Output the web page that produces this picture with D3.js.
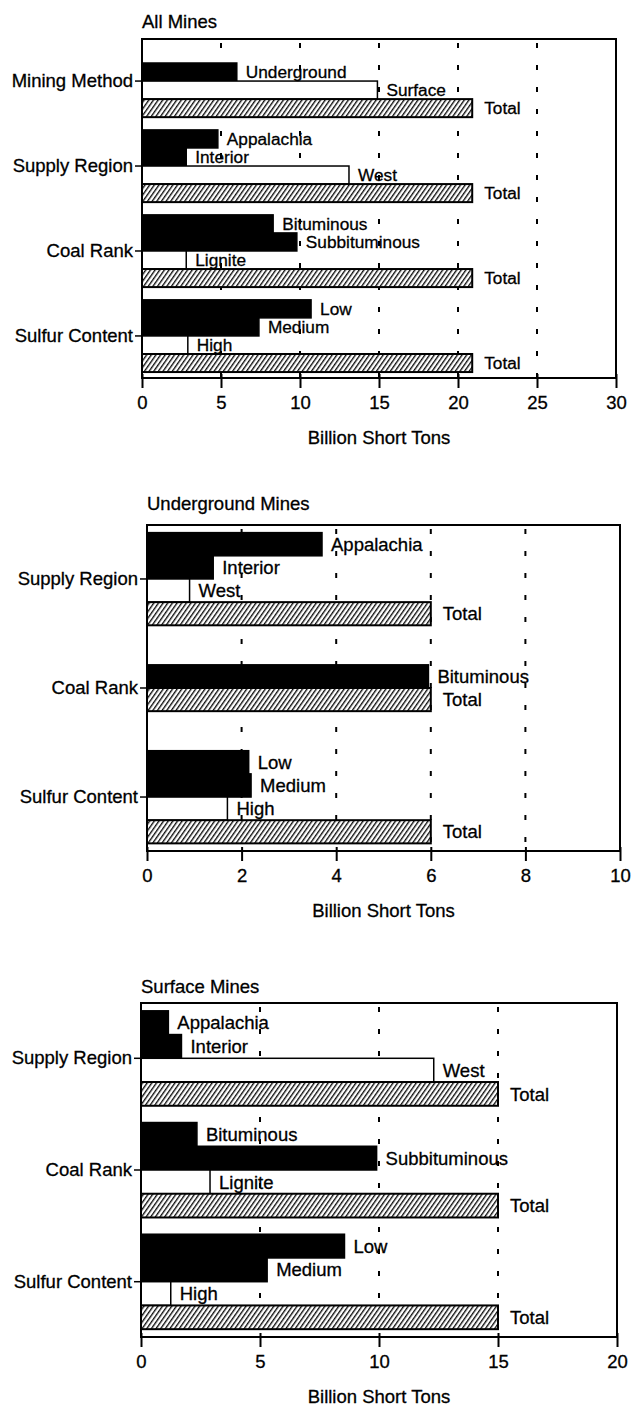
<!DOCTYPE html>
<html>
<head>
<meta charset="utf-8">
<script src="https://cdn.jsdelivr.net/npm/d3@7"></script>
<style>
  body { margin: 0; background: #fff; }
  svg { display: block; }
  text { font-family: "Liberation Sans", Arial, Helvetica, sans-serif; font-size: 18.5px; fill: #000; stroke: #000; stroke-width: 0.3px; }
</style>
</head>
<body>
<svg id="chart" width="631" height="1406"></svg>
<script>
// categories
const panelTitles = ["All Mines", "Underground Mines", "Surface Mines"];
const allGroups = ["Mining Method", "Supply Region", "Coal Rank", "Sulfur Content"];
const splitGroups = ["Supply Region", "Coal Rank", "Sulfur Content"];
const miningMethods = ["Underground", "Surface", "Total"];
const supplyRegions = ["Appalachia", "Interior", "West", "Total"];
const coalRanks = ["Bituminous", "Subbituminous", "Lignite", "Total"];
const coalRanksUnderground = ["Bituminous", "Total"];
const sulfurLevels = ["Low", "Medium", "High", "Total"];
const axisTitle = "Billion Short Tons";

// values, billion short tons
const allMiningValues = [6.0, 14.9, 20.9];
const allSupplyValues = [4.8, 2.8, 13.1, 20.9];
const allRankValues = [8.3, 9.8, 2.8, 20.9];
const allSulfurValues = [10.7, 7.4, 2.9, 20.9];
const ugSupplyValues = [3.7, 1.4, 0.9, 6.0];
const ugRankValues = [5.95, 6.0];
const ugSulfurValues = [2.15, 2.2, 1.7, 6.0];
const sfSupplyValues = [1.15, 1.7, 12.3, 15.0];
const sfRankValues = [2.35, 9.9, 2.9, 15.0];
const sfSulfurValues = [8.55, 5.3, 1.25, 15.0];

// tick labels
const allTicks = [0, 5, 10, 15, 20, 25, 30];
const ugTicks = [0, 2, 4, 6, 8, 10];
const sfTicks = [0, 5, 10, 15, 20];

const openBars = new Set(["Surface", "West", "Lignite", "High"]);
const svg = d3.select("#chart");

const defs = svg.append("defs");
const hatch = defs.append("pattern")
  .attr("id", "hatch")
  .attr("patternUnits", "userSpaceOnUse")
  .attr("width", 3.8).attr("height", 10)
  .attr("patternTransform", "rotate(35)");
hatch.append("rect").attr("width", 3.8).attr("height", 10).attr("fill", "#fff");
hatch.append("line").attr("x1", 0.7).attr("x2", 0.7).attr("y1", 0).attr("y2", 10)
  .attr("stroke", "#000").attr("stroke-width", 1.3);

function drawPanel(title, groups, series, ticks, box) {
  const g = svg.append("g");

  const x = d3.scaleLinear()
    .domain([ticks[0], ticks[ticks.length - 1]])
    .range([box.left, box.right]);

  const y = d3.scaleBand()
    .domain(groups)
    .range([box.top, box.bottom])
    .paddingInner(0.15)
    .paddingOuter(0.07);

  const row = d3.scaleBand().domain(d3.range(4)).range([0, y.bandwidth()]);
  // bar labels must fit one row
  const labelSize = Math.min(18.5, row.bandwidth() - 0.8);

  g.append("text")
    .attr("x", box.left)
    .attr("y", box.titleY)
    .text(title);

  // dashed grid
  g.selectAll(".grid")
    .data(ticks.slice(1, -1))
    .join("line")
    .attr("x1", d => x(d)).attr("x2", d => x(d))
    .attr("y1", box.top + 4).attr("y2", box.bottom)
    .attr("stroke", "#000")
    .attr("stroke-width", 2)
    .attr("stroke-dasharray", "5 17");

  const bars = [];
  groups.forEach((grp, gi) => {
    const s = series[gi];
    const shift = Math.ceil((4 - s.labels.length) / 2);
    s.labels.forEach((lab, i) => {
      bars.push({ group: grp, label: lab, value: s.values[i], row: shift + i });
    });
  });

  g.selectAll(".bar")
    .data(bars)
    .join("rect")
    .attr("x", x(0))
    .attr("y", d => y(d.group) + row(d.row))
    .attr("width", d => x(d.value) - x(0))
    .attr("height", row.bandwidth())
    .attr("fill", d => d.label === "Total" ? "url(#hatch)" : openBars.has(d.label) ? "#fff" : "#000")
    .attr("stroke", "#000")
    .attr("stroke-width", d => d.label === "Total" ? 2 : 1.5);

  g.selectAll(".lab")
    .data(bars)
    .join("text")
    .attr("x", d => x(d.value) + (d.label === "Total" ? 12 : 9))
    .attr("y", d => y(d.group) + row(d.row) + row.bandwidth() / 2)
    .attr("dy", "0.36em")
    .style("font-size", labelSize + "px")
    .text(d => d.label);

  // frame
  g.append("rect")
    .attr("x", box.left).attr("y", box.top)
    .attr("width", box.right - box.left)
    .attr("height", box.bottom - box.top)
    .attr("fill", "none")
    .attr("stroke", "#000")
    .attr("stroke-width", 2);

  const xAxis = g.append("g")
    .attr("transform", `translate(0,${box.bottom})`)
    .call(d3.axisBottom(x).tickValues(ticks).tickFormat(d3.format("d")).tickSize(10).tickSizeOuter(0).tickPadding(8));
  xAxis.select(".domain").remove();
  xAxis.selectAll(".tick line").attr("y1", -4).attr("stroke-width", 2);
  xAxis.attr("font-size", null).attr("font-family", null);

  const yAxis = g.append("g")
    .attr("transform", `translate(${box.left},0)`)
    .call(d3.axisLeft(y).tickSize(7).tickPadding(2));
  yAxis.select(".domain").remove();
  yAxis.selectAll(".tick line").attr("stroke-width", 1.5);
  yAxis.attr("font-size", null).attr("font-family", null);

  g.append("text")
    .attr("x", (box.left + box.right) / 2)
    .attr("y", box.bottom + 66)
    .attr("text-anchor", "middle")
    .text(axisTitle);
}

drawPanel(panelTitles[0], allGroups, [
  { labels: miningMethods, values: allMiningValues },
  { labels: supplyRegions, values: allSupplyValues },
  { labels: coalRanks, values: allRankValues },
  { labels: sulfurLevels, values: allSulfurValues }
], allTicks, { left: 142, right: 616, top: 39, bottom: 378, titleY: 28 });

drawPanel(panelTitles[1], splitGroups, [
  { labels: supplyRegions, values: ugSupplyValues },
  { labels: coalRanksUnderground, values: ugRankValues },
  { labels: sulfurLevels, values: ugSulfurValues }
], ugTicks, { left: 147, right: 620, top: 525, bottom: 851, titleY: 510 });

drawPanel(panelTitles[2], splitGroups, [
  { labels: supplyRegions, values: sfSupplyValues },
  { labels: coalRanks, values: sfRankValues },
  { labels: sulfurLevels, values: sfSulfurValues }
], sfTicks, { left: 141, right: 617, top: 1003, bottom: 1337, titleY: 993 });
</script>
</body>
</html>
